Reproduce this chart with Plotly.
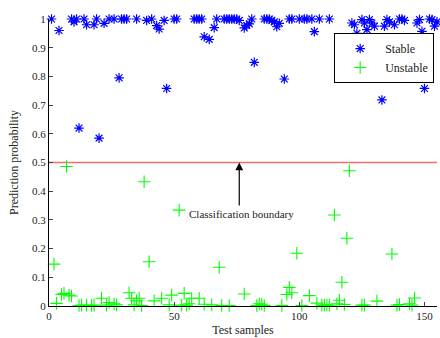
import plotly.graph_objects as go

# Stable samples (blue asterisks): test-sample index and prediction probability
stable_x = [1, 4, 9, 10, 11, 12, 14, 15, 18, 19, 20, 22, 24, 26, 28, 29, 30, 31, 35, 39,
            41, 43, 44, 46, 47, 50, 51, 58, 59, 60, 61, 62, 64, 66, 67, 70, 71, 72, 73, 74,
            75, 76, 78, 79, 80, 81, 82, 86, 87, 88, 89, 90, 91, 92, 94, 96, 97, 100, 102, 103,
            105, 106, 108, 112, 121, 122, 123, 125, 126, 127, 128, 129, 130, 133, 134, 135, 136, 138,
            140, 141, 142, 147, 148, 149, 150, 152, 153, 154, 155]
stable_y = [1.0, 0.96, 1.0, 0.99, 1.0, 0.62, 1.0, 0.98, 0.98, 1.0, 0.585, 0.985, 1.0, 1.0, 0.795, 1.0, 1.0, 1.0, 1.0, 0.995,
            1.0, 0.977, 0.965, 0.995, 0.758, 1.0, 1.0, 1.0, 1.0, 1.0, 1.0, 0.938, 0.929, 0.97, 1.0, 1.0, 1.0, 1.0, 1.0, 1.0,
            1.0, 0.995, 0.969, 0.978, 0.983, 1.0, 0.849, 1.0, 1.0, 1.0, 0.995, 0.99, 0.973, 0.985, 0.791, 1.0, 1.0, 1.0, 1.0, 1.0,
            1.0, 0.956, 1.0, 1.0, 0.986, 0.98, 0.95, 0.998, 0.986, 0.963, 0.998, 0.986, 0.975, 0.718, 0.975, 0.998, 0.99, 0.98,
            1.0, 1.0, 0.995, 0.986, 0.998, 0.957, 0.758, 1.0, 0.998, 0.975, 0.99]

# Unstable samples (green plus signs)
unstable_x = [2, 3, 5, 6, 7, 8, 9, 12, 13, 15, 17, 18, 21, 23, 24, 26, 27, 32, 33, 34,
              35, 36, 37, 38, 40, 42, 45, 48, 49, 52, 53, 54, 55, 56, 57, 60, 62, 65, 68, 69,
              72, 78, 83, 84, 85, 86, 93, 95, 96, 97, 99, 101, 104, 107, 109, 110, 111, 112, 114, 115,
              116, 117, 118, 119, 120, 125, 126, 131, 137, 139, 140, 144, 145, 146]
unstable_y = [0.146, 0.009, 0.040, 0.044, 0.486, 0.038, 0.035, 0.002, 0.003, 0.003, 0.002, 0.003, 0.027, 0.003, 0.012, 0.008, 0.004, 0.046, 0.027, 0.004,
              0.018, 0.027, 0.002, 0.433, 0.154, 0.018, 0.027, 0.004, 0.038, 0.334, 0.003, 0.044, 0.003, 0.008, 0.027, 0.027, 0.006, 0.004, 0.135, 0.002,
              0.002, 0.042, 0.002, 0.008, 0.006, 0.002, 0.002, 0.040, 0.065, 0.046, 0.184, 0.002, 0.036, 0.010, 0.003, 0.003, 0.003, 0.003, 0.317, 0.008,
              0.020, 0.083, 0.005, 0.236, 0.471, 0.003, 0.003, 0.017, 0.181, 0.003, 0.005, 0.008, 0.003, 0.028]

boundary = 0.5
x_range = [0, 155]
x_ticks = [0, 50, 100, 150]
y_ticks = [0, 0.1, 0.2, 0.3, 0.4, 0.5, 0.6, 0.7, 0.8, 0.9, 1]
y_tick_labels = ["0", "0.1", "0.2", "0.3", "0.4", "0.5", "0.6", "0.7", "0.8", "0.9", "1"]

FONT = "Liberation Serif"

fig = go.Figure()
fig.add_trace(go.Scatter(x=x_range, y=[boundary, boundary], mode="lines",
                         line=dict(color="rgb(240,110,110)", width=1.6),
                         showlegend=False, hoverinfo="skip"))
fig.add_trace(go.Scatter(x=stable_x, y=stable_y, mode="markers", name="Stable",
                         marker=dict(symbol="asterisk-open", size=8, color="#0000ff",
                                     line=dict(color="#0000ff", width=1.2)),
                         cliponaxis=False))
fig.add_trace(go.Scatter(x=unstable_x, y=unstable_y, mode="markers", name="Unstable",
                         marker=dict(symbol="cross-thin-open", size=9, color="#00ff00",
                                     line=dict(color="#00ff00", width=1.1)),
                         cliponaxis=False))

fig.add_annotation(x=76, y=boundary, ax=76, ay=0.345, xref="x", yref="y", axref="x", ayref="y",
                   text="", showarrow=True, arrowhead=2, arrowsize=1.3, arrowwidth=1.2,
                   arrowcolor="black")
fig.add_annotation(x=77, y=0.32, xref="x", yref="y", text="Classification boundary",
                   showarrow=False, font=dict(family=FONT, size=11, color="#222"))

fig.update_layout(
    width=440, height=338,
    margin=dict(l=49, r=3, t=19, b=32),
    paper_bgcolor="white", plot_bgcolor="white",
    font=dict(family=FONT, size=11, color="#222"),
    legend=dict(x=0.735, y=0.951, xanchor="left", yanchor="top",
                bordercolor="black", borderwidth=1, bgcolor="white",
                font=dict(family=FONT, size=12, color="#222"), itemwidth=40),
)
fig.update_xaxes(range=x_range, tickvals=x_ticks, ticks="inside", ticklen=4,
                 showline=True, linecolor="black", linewidth=1, showgrid=False, zeroline=False,
                 title=dict(text="Test samples", font=dict(family=FONT, size=12), standoff=4))
fig.update_yaxes(range=[0, 1], tickvals=y_ticks, ticktext=y_tick_labels, ticks="inside", ticklen=4,
                 showline=True, linecolor="black", linewidth=1, showgrid=False, zeroline=False,
                 title=dict(text="Prediction probability", font=dict(family=FONT, size=12), standoff=10))

fig.write_html("out.html", config={"displayModeBar": False},
               post_script="document.body.style.margin='0';document.body.style.overflow='hidden';")
